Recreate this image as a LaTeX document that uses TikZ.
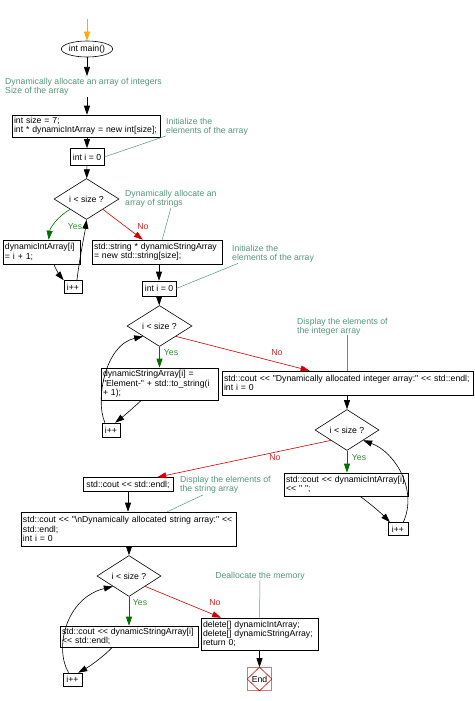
\documentclass[tikz,border=0pt]{standalone}
\usepackage{fontspec}
\setmainfont{Liberation Sans}[Ligatures=TeXOff]
\usetikzlibrary{shapes.geometric,arrows.meta,calc}
\definecolor{cmtc}{RGB}{85,150,125}
\definecolor{yesc}{RGB}{0,110,0}
\definecolor{yesl}{RGB}{50,140,50}
\definecolor{noc}{RGB}{210,0,0}
\definecolor{nol}{RGB}{210,40,40}
\definecolor{startc}{RGB}{255,170,0}
\definecolor{endsq}{RGB}{210,120,120}
\begin{document}
\begin{tikzpicture}[x=1pt,y=-1pt,
  font=\fontsize{8.7}{9.3}\selectfont,
  box/.style={draw, line width=0.6pt, inner sep=2pt, align=left},
  sbox/.style={draw, line width=0.6pt, inner sep=1pt},
  dia/.style={diamond, draw, line width=0.6pt, inner sep=0pt, minimum width=65pt, minimum height=28pt},
  cmt/.style={text=cmtc, align=left, inner sep=0pt},
  cline/.style={draw=cmtc, line width=0.5pt},
  flow/.style={-{Triangle[length=9pt,width=6pt]}, line width=0.6pt},
  yesflow/.style={flow, yesc},
  noflow/.style={flow, noc},
  yeslbl/.style={text=yesl, inner sep=0pt},
  nolbl/.style={text=nol, inner sep=0pt}]
\fill[white] (0,0) rectangle (474,701);
\useasboundingbox (0,0) rectangle (474,701);

% nodes
\coordinate (s0) at (87,19);
\node[draw, ellipse, line width=0.6pt, minimum width=49pt, minimum height=16pt, inner sep=0pt] (main) at (87,49) {int main()};
\coordinate (c1) at (87,76);
\node[cmt, anchor=west] (t1) at (5,86.5) {Dynamically allocate an array of integers\\Size of the array};
\coordinate (c2) at (87,97);
\node[box, text width=144pt, minimum height=22pt] (b1) at (86,126) {int size = 7;\\int * dynamicIntArray = new int[size];};
\node[cmt, anchor=west] (t2) at (166,127) {Initialize the\\elements of the array};
\node[sbox, minimum width=34pt, minimum height=17pt] (n1) at (87,157) {int i = 0};
\node[dia] (d1) at (86.5,199) {i < size ?};
\node[cmt, anchor=west] (t3) at (125,199) {Dynamically allocate an\\array of strings};
\node[box, text width=73pt, minimum height=24pt] (b2) at (41.5,252) {dynamicIntArray[i]\\= i + 1;};
\node[sbox, minimum width=18pt, minimum height=13pt] (i1) at (73,287) {i++};
\node[box, text width=126pt, minimum height=24pt] (b3) at (157,252) {std::string * dynamicStringArray\\= new std::string[size];};
\node[cmt, anchor=west] (t4) at (232,253.5) {Initialize the\\elements of the array};
\node[sbox, minimum width=34pt, minimum height=15pt] (n2) at (159,288.5) {int i = 0};
\node[dia, minimum height=27pt] (d2) at (159.5,326) {i < size ?};
\node[box, text width=113pt, minimum height=32pt] (b4) at (159.5,384) {dynamicStringArray[i] =\\"Element-" + std::to\_string(i\\+ 1);};
\node[sbox, minimum width=18pt, minimum height=14pt] (i2) at (111,430) {i++};
\node[cmt, anchor=west] (t5) at (297,326.5) {Display the elements of\\the integer array};
\node[box, text width=247pt, minimum height=24pt] (b5) at (347.5,383) {std::cout << "Dynamically allocated integer array:" << std::endl;\\int i = 0};
\node[dia, minimum width=64pt, minimum height=26pt] (d3) at (347,430) {i < size ?};
\node[box, text width=120pt, minimum height=23pt] (b6) at (346,484.5) {std::cout << dynamicIntArray[i]\\<< " ";};
\node[sbox, minimum width=20pt, minimum height=13pt] (i3) at (398,529) {i++};
\node[sbox, minimum width=90pt, minimum height=14pt] (b7) at (128,484.5) {std::cout << std::endl;};
\node[cmt, anchor=west] (t6) at (180,485) {Display the elements of\\the string array};
\node[box, text width=211pt, minimum height=34pt] (b8) at (128.5,529) {std::cout << "\textbackslash nDynamically allocated string array:" <<\\std::endl;\\int i = 0};
\node[dia, minimum width=64pt, minimum height=26pt] (d4) at (129,576) {i < size ?};
\node[box, text width=134pt, minimum height=21pt] (b9) at (129,636.5) {std::cout << dynamicStringArray[i]\\<< std::endl;};
\node[sbox, minimum width=19pt, minimum height=13pt] (i4) at (72.5,679.5) {i++};
\node[cmt] (t7) at (260,576) {Deallocate the memory};
\node[box, text width=113pt, minimum height=32pt] (b10) at (259.5,634) {delete[] dynamicIntArray;\\delete[] dynamicStringArray;\\return 0;};
\node[draw=endsq, line width=0.6pt, minimum width=24pt, minimum height=23pt, inner sep=0pt] (end) at (259.5,679) {End};
\draw[noc, line width=0.6pt] (end.north) -- (end.east) -- (end.south) -- (end.west) -- cycle;

% connectors
\draw[flow, startc] (s0) -- (main);
\draw[flow] (main) -- (c1);
\draw[flow] (c2) -- (c2 |- b1.north);
\draw[flow] (b1.south -| n1) -- (n1);
\draw[flow] (n1) -- (d1);
\draw[cline] (t2.south west) -- (n1.east);

\draw[yesflow] (d1.south west) .. controls (58,216) and (50,228) .. (b2.60);
\node[yeslbl] (y1) at (75,227) {Yes};
\draw[flow] (b2.-45) .. controls (57,272) and (61,277) .. (i1.north west);
\draw[flow] (i1.60) .. controls (80,255) and (85,232) .. (d1.south);
\draw[noflow] (d1.south east) -- (b3.139);
\node[nolbl] (no1) at (143,227) {No};
\draw[cline] (t3.south) -- (b3.67);
\draw[flow] (b3.south -| n2) -- (n2);
\draw[cline] ($(t4.south west)+(6,1)$) -- (n2.east);

\draw[flow] (n2) -- (d2);
\draw[yesflow] (d2.south) -- (d2.south |- b4.north);
\node[yeslbl] (y2) at (171,353) {Yes};
\draw[flow] (b4.222) .. controls (133,408) and (125,415) .. (i2.60);
\draw[flow] (i2.130) .. controls (95,400) and (105,345) .. (d2.south west);
\draw[noflow] (d2.south east) -- (b5.162);
\node[nolbl] (no2) at (277,353) {No};
\draw[cline] (t5.south -| b5.north) -- (b5.north);

\draw[flow] (b5.south -| d3) -- (d3);
\draw[yesflow] (d3.south) -- (d3.south |- b6.north);
\node[yeslbl] (y3) at (359,458) {Yes};
\draw[flow] (b6.-40) .. controls (372,505) and (382,514) .. (i3.140);
\draw[flow] (i3.52) .. controls (418,490) and (395,452) .. (d3.south east);
\draw[noflow] (d3.south west) -- (b7.14);
\node[nolbl] (no3) at (275,458) {No};
\draw[cline] ($(t6.south west)+(23,1)$) -- (b8.24);
\draw[flow] (b7.south) -- (b7.south |- b8.north);

\draw[flow] (b8.south -| d4) -- (d4);
\draw[yesflow] (d4.south) -- (d4.south |- b9.north);
\node[yeslbl] (y4) at (140,603) {Yes};
\draw[flow] (b9.213) .. controls (105,655) and (92,665) .. (i4.50);
\draw[flow] (i4.120) .. controls (54,648) and (66,598) .. (d4.south west);
\draw[noflow] (d4.south east) -- (b10.157);
\node[nolbl] (no4) at (215,603) {No};
\draw[cline] (t7.south) -- (b10.north);
\draw[flow] (b10) -- (end);
\end{tikzpicture}
\end{document}
